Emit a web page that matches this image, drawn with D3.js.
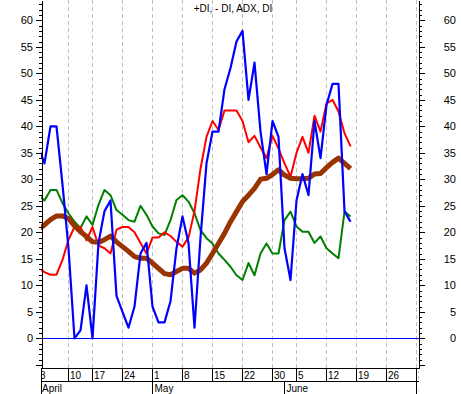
<!DOCTYPE html>
<html><head><meta charset="utf-8">
<script src="https://cdn.jsdelivr.net/npm/d3@7"></script>
<style>
html,body{margin:0;padding:0;background:#fff;}
svg{display:block;font-family:"Liberation Sans",Arial,sans-serif;}
</style></head>
<body>
<script>
// trading days (x categories)
const days = [
"2017-04-03","2017-04-04","2017-04-05","2017-04-06","2017-04-07",
"2017-04-10","2017-04-11","2017-04-12","2017-04-13",
"2017-04-17","2017-04-18","2017-04-19","2017-04-20","2017-04-21",
"2017-04-24","2017-04-25","2017-04-26","2017-04-27","2017-04-28",
"2017-05-01","2017-05-02","2017-05-03","2017-05-04","2017-05-05",
"2017-05-08","2017-05-09","2017-05-10","2017-05-11","2017-05-12",
"2017-05-15","2017-05-16","2017-05-17","2017-05-18","2017-05-19",
"2017-05-22","2017-05-23","2017-05-24","2017-05-25","2017-05-26",
"2017-05-30","2017-05-31","2017-06-01","2017-06-02",
"2017-06-05","2017-06-06","2017-06-07","2017-06-08","2017-06-09",
"2017-06-12","2017-06-13","2017-06-14","2017-06-15","2017-06-16",
"2017-06-19","2017-06-20","2017-06-21","2017-06-22","2017-06-23",
"2017-06-26","2017-06-27","2017-06-28","2017-06-29","2017-06-30",
"2017-07-03"];

// DI (blue)
const diValues = [36,33,40,40,29,17,0,1.5,10,0,18,24,26,8,5,2,6,16,18,6,3,3,7,17,23,18,2,19,33,39,39,47,51,56,58,45,52,39,31,41,38,17,11,26,31,27,41,34,44,48,48,24,22];
// +DI (red)
const plusDI = [13.2,12.5,12,12,14.8,18.6,21,21,18.5,21,17.5,17,16,20.5,21,21,20,18,16,19,19,20,19.3,18.2,17.3,19,24,32,38,41,39.3,43,43,43,41,37,38.2,36,34,38.2,35.8,33,30.5,35,38,35,42,39,44.3,45,42.8,38.7,36.2];
// -DI (green)
const minusDI = [27,26,28,28,25.5,23.6,22,20.8,23,21.4,25.2,28,27,24.2,23.3,22.3,22,25,23.3,21.1,19.8,19.5,22.3,26.1,27,25.8,23.6,20.4,18.9,17.9,16,14.8,13.5,11.9,11,14.2,11.9,16,17.9,16,16,22.3,23.9,21.1,20.1,20.1,18,19.2,17,16,15.1,23.9,23];
// ADX (brown)
const adx = [20.6,21.4,22.4,23.1,23.1,22.6,21.2,20.1,19.2,18.2,18.1,18.6,19.3,18.2,17.3,16.4,15.4,15.1,15.1,14.2,13.2,12.2,12,12.6,13.2,13.2,12.3,12.9,14.2,16,17.9,19.8,22,23.9,25.8,27,28.3,30,30.2,30.9,31.8,30.8,30.2,30.1,30.1,30.2,31,31.1,32.2,33.2,34,33,32];

const weekTickDates = ["2017-04-03","2017-04-10","2017-04-17","2017-04-24","2017-05-01","2017-05-08","2017-05-15","2017-05-22","2017-05-30","2017-06-05","2017-06-12","2017-06-19","2017-06-26","2017-07-03"];
const weekTickLabels = ["3","10","17","24","1","8","15","22","30","5","12","19","26","3"];
const monthTickDates = ["2017-04-03","2017-05-01","2017-06-01","2017-07-03"];
const monthLabels = ["April","May","June","July"];
const yLabelValues = [0,5,10,15,20,25,30,35,40,45,50,55,60];
const title = "+DI, - DI, ADX, DI";

const W = 461, H = 394;
const L = 41, R = 419, T = 0, B = 368;

const svg = d3.select("body").append("svg").attr("width", W).attr("height", H);
svg.append("rect").attr("width", W).attr("height", H).attr("fill", "#fff");

const idx = d => days.indexOf(d);
const x = d3.scaleLinear().domain([0.4167, 63.4167]).range([L, R]);
const y = d3.scaleLinear().domain([-5.6, 63.83]).range([B, T]);

const defs = svg.append("defs");
defs.append("clipPath").attr("id", "plotclip").append("rect")
  .attr("x", L).attr("y", T).attr("width", R - L).attr("height", B - T);
defs.append("clipPath").attr("id", "axisclip").append("rect")
  .attr("x", L).attr("y", B).attr("width", R - L).attr("height", H - B);

const plot = svg.append("g").attr("clip-path", "url(#plotclip)");

// grid
plot.selectAll("line.grid").data(weekTickDates).enter().append("line")
  .attr("class", "grid")
  .attr("x1", d => Math.floor(x(idx(d))) + 0.5).attr("x2", d => Math.floor(x(idx(d))) + 0.5)
  .attr("y1", T).attr("y2", B)
  .attr("stroke", "#c0c0c0").attr("stroke-width", 1)
  .attr("stroke-dasharray", "4,3").attr("shape-rendering", "crispEdges");

// zero line
plot.append("line").attr("x1", L).attr("x2", R)
  .attr("y1", Math.round(y(0)) + 0.5).attr("y2", Math.round(y(0)) + 0.5)
  .attr("stroke", "#0000ff").attr("stroke-width", 1).attr("shape-rendering", "crispEdges");

const line = d3.line().x((d, i) => x(i)).y(d => y(d));
const series = [
  {v: minusDI, c: "#008000", w: 2},
  {v: plusDI, c: "#ff0000", w: 2},
  {v: adx, c: "#993300", w: 5},
  {v: diValues, c: "#0000ff", w: 2.2}
];
series.forEach(s => {
  plot.append("path").datum(s.v).attr("d", line)
    .attr("fill", "none").attr("stroke", s.c).attr("stroke-width", s.w)
    .attr("stroke-linejoin", "round").attr("stroke-linecap", "butt");
});

// y axes
const majorVals = d3.range(-5, 61, 5);
const minorVals = d3.range(-5, 64, 1).filter(v => v % 5 !== 0);

function yAxis(gen, xpos, labelX, anchor) {
  const g = svg.append("g").attr("transform", `translate(${xpos},0)`);
  g.call(gen(y).tickValues(majorVals).tickSize(6).tickSizeOuter(0).tickFormat(""))
    .call(a => a.selectAll("line").attr("shape-rendering", "crispEdges"))
    .call(a => a.select(".domain").attr("shape-rendering", "crispEdges"));
  g.append("g").call(gen(y).tickValues(minorVals).tickSize(3).tickSizeOuter(0).tickFormat(""))
    .call(a => a.select(".domain").remove())
    .call(a => a.selectAll("line").attr("shape-rendering", "crispEdges"));
  g.selectAll("path.domain").attr("stroke", "#000");
  svg.append("g").selectAll("text").data(yLabelValues).enter().append("text")
    .attr("x", labelX).attr("y", d => y(d) + 4)
    .attr("text-anchor", anchor).attr("font-size", 11).attr("fill", "#000")
    .text(d => d);
}
yAxis(d3.axisLeft, L + 0.5, 33, "end");
yAxis(d3.axisRight, R - 0.5, 456, "end");

// x axis rows
const ax = svg.append("g");
ax.append("line").attr("x1", L).attr("x2", R).attr("y1", B + 0.5).attr("y2", B + 0.5)
  .attr("stroke", "#000").attr("shape-rendering", "crispEdges");
ax.append("line").attr("x1", L).attr("x2", R).attr("y1", 381.5).attr("y2", 381.5)
  .attr("stroke", "#000").attr("shape-rendering", "crispEdges");
ax.append("line").attr("x1", L + 0.5).attr("x2", L + 0.5).attr("y1", B).attr("y2", H)
  .attr("stroke", "#000").attr("shape-rendering", "crispEdges");

const rows = svg.append("g").attr("clip-path", "url(#axisclip)");
rows.selectAll("line.wk").data(weekTickDates).enter().append("line")
  .attr("x1", d => Math.floor(x(idx(d))) + 0.5).attr("x2", d => Math.floor(x(idx(d))) + 0.5)
  .attr("y1", B).attr("y2", 381.5)
  .attr("stroke", "#000").attr("shape-rendering", "crispEdges");
rows.selectAll("text.wk").data(weekTickDates).enter().append("text")
  .attr("x", d => x(idx(d)) + 1.5).attr("y", 379)
  .attr("font-size", 10).attr("fill", "#000")
  .text((d, i) => weekTickLabels[i]);
rows.selectAll("line.mo").data(monthTickDates).enter().append("line")
  .attr("x1", d => Math.floor(x(idx(d))) + 0.5).attr("x2", d => Math.floor(x(idx(d))) + 0.5)
  .attr("y1", 381.5).attr("y2", H)
  .attr("stroke", "#000").attr("shape-rendering", "crispEdges");
rows.selectAll("text.mo").data(monthTickDates).enter().append("text")
  .attr("x", d => Math.max(x(idx(d)) + 2, L + 1)).attr("y", 392)
  .attr("font-size", 10).attr("fill", "#000")
  .text((d, i) => monthLabels[i]);

// title
svg.append("text").attr("x", 233).attr("y", 12).attr("text-anchor", "middle")
  .attr("font-size", 10).attr("fill", "#000").text(title);
</script>
</body></html>
